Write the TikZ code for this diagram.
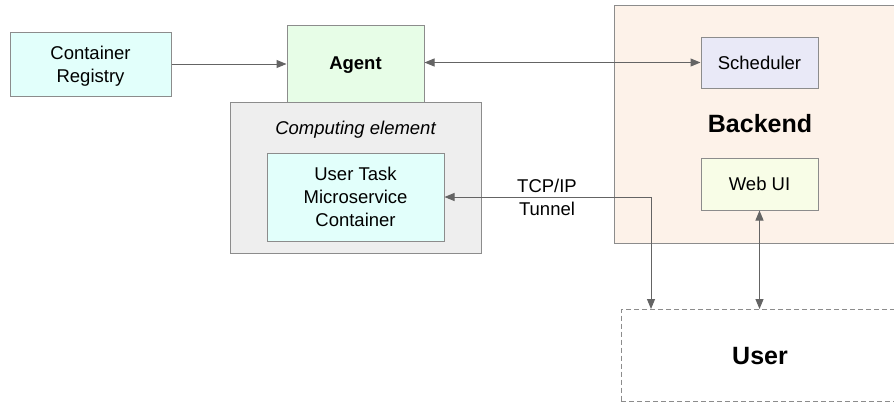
\documentclass[tikz,border=0pt]{standalone}
\usepackage{fontspec}
\setmainfont{Liberation Sans}
\usetikzlibrary{arrows.meta}
\definecolor{bordc}{RGB}{140,140,140}
\definecolor{arrc}{RGB}{100,100,100}
\definecolor{cyanf}{RGB}{226,255,251}
\definecolor{greenf}{RGB}{231,253,231}
\definecolor{grayf}{RGB}{238,238,238}
\definecolor{backf}{RGB}{253,242,233}
\definecolor{schedf}{RGB}{233,233,247}
\definecolor{webf}{RGB}{248,253,231}
\tikzset{
  box/.style={draw=bordc, line width=1pt, inner sep=0pt, align=center, text depth=0pt,
    font=\fontsize{18.5}{23}\selectfont},
  tip/.tip={Triangle[length=10pt,width=8pt]},
  arr/.style={draw=arrc, line width=1pt, -tip},
  barr/.style={draw=arrc, line width=1pt, tip-tip},
  lbl/.style={inner sep=0pt, align=center, text depth=0pt, font=\fontsize{18.5}{23}\selectfont},
}
\begin{document}
\begin{tikzpicture}[x=1pt,y=-1pt]
\useasboundingbox (0,0) rectangle (894,402);
\clip (0,0) rectangle (894,402);
\fill[white] (0,0) rectangle (894,402);
% Backend
\node[box, fill=backf, minimum width=282pt, minimum height=238pt] (backend) at (755,124) {};
\node[lbl, font=\fontsize{25}{30}\selectfont\bfseries] (backendlbl) at (760,123) {Backend};
\node[box, fill=schedf, minimum width=117pt, minimum height=51pt] (sched) at (759.5,62.5) {Scheduler};
\node[box, fill=webf, minimum width=117pt, minimum height=52pt] (webui) at (759.5,184) {Web UI};
% User
\node[box, dash pattern=on 5pt off 3pt, fill=white, minimum width=275pt, minimum height=92pt,
  font=\fontsize{25}{30}\selectfont\bfseries] (user) at (758.5,355.5) {\hspace*{3pt}User};
% Computing element
\node[box, fill=grayf, minimum width=251pt, minimum height=151pt] (ce) at (355.5,177.5) {};
\node[lbl, font=\fontsize{18.5}{23}\selectfont\itshape] (celbl) at (355.5,127.5) {Computing element};
\node[box, fill=cyanf, minimum width=177pt, minimum height=88pt] (ut) at (355.5,197) {User Task\\Microservice\\Container};
% Agent and registry
\node[box, fill=greenf, minimum width=137pt, minimum height=77pt, font=\fontsize{18.5}{23}\selectfont\bfseries] (agent) at (355.5,63.5) {Agent};
\node[box, fill=cyanf, minimum width=161pt, minimum height=64pt] (reg) at (90.5,64) {Container\\Registry};
% connectors
\draw[arr] (reg.east) -- (reg.east -| agent.west);
\draw[barr] (agent.east |- sched.west) -- (sched.west);
\coordinate (tcpend) at (651,309);
\draw[barr] (ut.east) -| (tcpend);
\node[lbl] (tcplbl) at (547,197) {TCP/IP\\Tunnel};
\draw[barr] (webui.south) -- (webui.south |- user.north);
\end{tikzpicture}
\end{document}
